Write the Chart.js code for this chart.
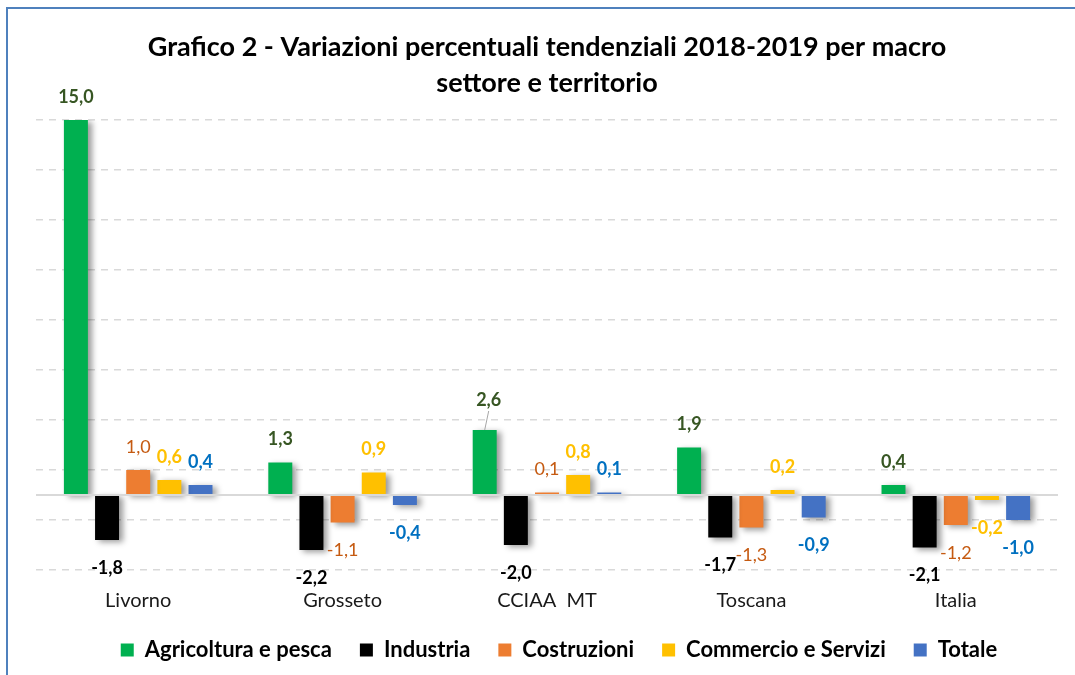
<!DOCTYPE html>
<html><head><meta charset="utf-8">
<script src="https://cdn.jsdelivr.net/npm/chart.js@4.4.1/dist/chart.umd.min.js"></script>
<style>
html,body{margin:0;padding:0;background:#fff;overflow:hidden}
#wrap{position:relative;width:1075px;height:675px;overflow:hidden}
#frame{position:absolute;left:6px;top:7px;width:1200px;height:800px;border-left:2px solid #4F81BD;border-top:2px solid #4F81BD}
canvas{position:absolute;left:0;top:0}
</style></head><body>
<div id="wrap"><div id="frame"></div><canvas id="c" width="1075" height="675"></canvas></div>
<script>
const categories = ['Livorno', 'Grosseto', 'CCIAA  MT', 'Toscana', 'Italia'];
const seriesNames = ['Agricoltura e pesca', 'Industria', 'Costruzioni', 'Commercio e Servizi', 'Totale'];
const agricoltura = [15.0, 1.3, 2.6, 1.9, 0.4];
const industria = [-1.8, -2.2, -2.0, -1.7, -2.1];
const costruzioni = [1.0, -1.1, 0.1, -1.3, -1.2];
const commercio = [0.6, 0.9, 0.8, 0.2, -0.2];
const totale = [0.4, -0.4, 0.1, -0.9, -1.0];
const titleLines = ['Grafico 2 - Variazioni percentuali tendenziali 2018-2019 per macro', 'settore e territorio'];

const seriesValues = [agricoltura, industria, costruzioni, commercio, totale];
const barColors = ['#00B050', '#000000', '#ED7D31', '#FFC000', '#4472C4'];
const labelColors = ['#375623', '#000000', '#C55A11', '#FFC000', '#0070C0'];
const labelWeights = ['bold', 'bold', 'normal', 'bold', 'bold'];
const FONT = 'Lato';

const fmt = v => v.toFixed(1).replace('.', ',');

const shadowPlugin = {
  id: 'barShadow',
  beforeDatasetsDraw(chart) {
    const ctx = chart.ctx;
    ctx.save();
    ctx.shadowColor = 'rgba(0,0,0,0.40)';
    ctx.shadowBlur = 6;
    ctx.shadowOffsetX = 4;
    ctx.shadowOffsetY = 2;
  },
  afterDatasetsDraw(chart) {
    chart.ctx.restore();
  }
};

const zeroLinePlugin = {
  id: 'zeroLine',
  afterDatasetsDraw(chart) {
    const ctx = chart.ctx, y = chart.scales.y.getPixelForValue(0);
    const a = chart.chartArea;
    ctx.save();
    ctx.strokeStyle = '#D9D9D9';
    ctx.lineWidth = 2;
    ctx.beginPath();
    ctx.moveTo(a.left, y);
    ctx.lineTo(a.right, y);
    ctx.stroke();
    ctx.restore();
  }
};

const labelPlugin = {
  id: 'valueLabels',
  afterDatasetsDraw(chart) {
    const ctx = chart.ctx;
    ctx.save();
    ctx.textAlign = 'center';
    ctx.textBaseline = 'middle';
    chart.data.datasets.forEach((ds, di) => {
      const meta = chart.getDatasetMeta(di);
      meta.data.forEach((el, i) => {
        const v = ds.data[i];
        let x = el.x, y;
        if (v >= 0) y = el.y - 23; else y = el.y + 28;
        if (di === 0 && i === 2) {
          y = el.y - 30; x = el.x + 4;
          ctx.strokeStyle = '#A6A6A6';
          ctx.lineWidth = 1;
          ctx.beginPath();
          ctx.moveTo(x, y + 11);
          ctx.lineTo(el.x, el.y);
          ctx.stroke();
        }
        ctx.font = labelWeights[di] + ' 18px ' + FONT;
        ctx.fillStyle = labelColors[di];
        ctx.fillText(fmt(v), x, y);
      });
    });
    ctx.restore();
  }
};

const legendShiftPlugin = {
  id: 'legendShift',
  afterLayout(chart) {
    if (chart.legend) { chart.legend.left += 12; chart.legend.right += 12; }
  }
};

new Chart(document.getElementById('c'), {
  type: 'bar',
  data: {
    labels: categories,
    datasets: seriesNames.map((n, k) => ({
      label: n,
      data: seriesValues[k],
      backgroundColor: barColors[k],
      borderColor: barColors[k],
      borderWidth: 0,
      categoryPercentage: 0.762,
      barPercentage: 0.77
    }))
  },
  options: {
    responsive: false,
    animation: false,
    layout: { padding: { left: 36, right: 17, top: 0, bottom: 4 } },
    plugins: {
      title: {
        display: true,
        text: titleLines,
        color: '#000',
        font: { family: FONT, size: 27, weight: 'bold', lineHeight: '36px' },
        padding: { top: 29, bottom: 19 }
      },
      legend: {
        position: 'bottom',
        labels: {
          boxWidth: 13, boxHeight: 13, padding: 28, color: '#000',
          font: { family: FONT, size: 22, weight: 'bold' }
        }
      },
      tooltip: { enabled: false }
    },
    scales: {
      x: {
        grid: { display: false, drawTicks: false },
        border: { display: false },
        ticks: { color: '#1a1a1a', padding: 19, font: { family: FONT, size: 20 } },
        afterFit(scale) { scale.height = 41; }
      },
      y: {
        min: -3, max: 15,
        ticks: { display: false, stepSize: 2 },
        grid: { color: '#D9D9D9', lineWidth: 1.5, drawTicks: false },
        border: { display: false, dash: [7, 6] },
        afterFit(scale) { scale.width = 0; }
      }
    }
  },
  plugins: [shadowPlugin, zeroLinePlugin, labelPlugin, legendShiftPlugin]
});
</script>
</body></html>
